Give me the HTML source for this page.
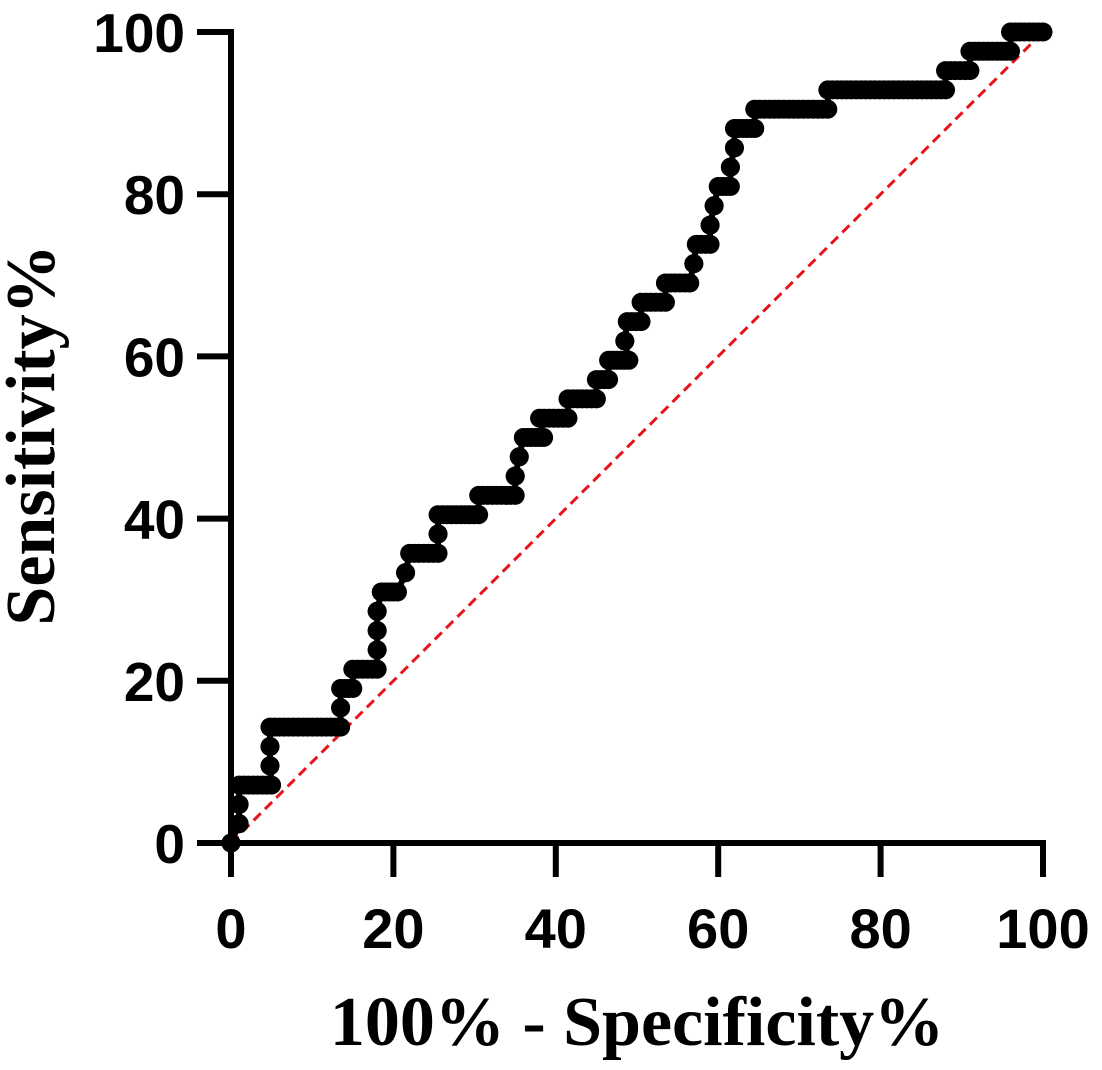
<!DOCTYPE html>
<html><head><meta charset="utf-8"><style>
html,body{margin:0;padding:0;background:#fff;width:1102px;height:1070px;overflow:hidden}
text{font-family:"Liberation Sans",sans-serif;font-weight:bold;fill:#000}
.t{font-family:"Liberation Serif",serif}
</style></head><body>
<svg id="chart" width="1102" height="1070" viewBox="0 0 1102 1070" xmlns="http://www.w3.org/2000/svg">
<g id="axes"></g>
<line id="diag" stroke="#e8141b" stroke-width="3" stroke-dasharray="10,6"/>
<g id="curve"></g>
<text class="t" x="637" y="1045" font-size="70" text-anchor="middle">100% - Specificity%</text>
<text class="t" x="0" y="0" font-size="70" text-anchor="middle" transform="translate(54,435) rotate(-90)">Sensitivity%</text>
</svg>
<script>
const xTicks=[0,20,40,60,80,100];
const yTicks=[0,20,40,60,80,100];
const runSens=[0,2.38,4.76,7.14,9.52,11.9,14.29,16.67,19.05,21.43,23.81,26.19,28.57,30.95,33.33,35.71,38.1,40.48,42.86,45.24,47.62,50,52.38,54.76,57.14,59.52,61.9,64.29,66.67,69.05,71.43,73.81,76.19,78.57,80.95,83.33,85.71,88.1,90.48,92.86,95.24,97.62,100];
const runStart=[0,1,1,1,4.8,4.8,4.8,13.5,13.5,15,18,18,18,18.5,21.5,22,25.5,25.5,30.5,35,35.5,36,38,41.5,45,46.5,48.5,48.8,50.5,53.5,57,57.3,59,59.5,60,61.5,62,62,64.5,73.5,88,91,96];
const runEnd=[0,1,1,5,4.8,4.8,13.5,13.5,15,18,18,18,18,20.5,21.5,25.5,25.5,30.5,35,35,35.5,38.5,41.5,45,46.5,49,48.5,50.5,53.5,56.5,57,59,59,59.5,61.5,61.5,62,64.5,73.5,88,91,96,100];
const X0=231,X1=1043,Y0=843,Y1=32;
const sx=v=>X0+(X1-X0)*v/100, sy=v=>Y0-(Y0-Y1)*v/100;
const NS="http://www.w3.org/2000/svg";
function mk(tag,attrs,parent){const e=document.createElementNS(NS,tag);for(const k in attrs)e.setAttribute(k,attrs[k]);parent.appendChild(e);return e;}
const ax=document.getElementById('axes');
let l=mk('line',{x1:X0,y1:Y0,x2:X0,y2:Y1-3,stroke:'#000','stroke-width':6},ax);


l=mk('line',{x1:X0-3,y1:Y0,x2:X1+3,y2:Y0,stroke:'#000','stroke-width':6},ax);


yTicks.forEach(v=>{
 const t=mk('line',{x1:X0-34,y1:sy(v),x2:X0,y2:sy(v),stroke:'#000','stroke-width':6},ax);
 
 
 const tx=mk('text',{x:185,y:sy(v)+20,'font-size':55,'text-anchor':'end'},ax);tx.textContent=v;
 
 
});
xTicks.forEach(v=>{
 const t=mk('line',{x1:sx(v),y1:Y0,x2:sx(v),y2:Y0+34,stroke:'#000','stroke-width':6},ax);
 
 
 const tx=mk('text',{x:sx(v),y:948,'font-size':56,'text-anchor':'middle'},ax);tx.textContent=v;
 
 
});
const d=document.getElementById('diag');
d.setAttribute('x1',sx(0));d.setAttribute('y1',sy(0));d.setAttribute('x2',sx(100));d.setAttribute('y2',sy(100));
const cv=document.getElementById('curve');
let pts=[];
runSens.forEach((s,i)=>{pts.push([runStart[i],s]);pts.push([runEnd[i],s]);});
const pl=mk('polyline',{points:pts.map(p=>sx(p[0])+','+sy(p[1])).join(' '),fill:'none',stroke:'#000','stroke-width':6},cv);


runSens.forEach((s,i)=>{
 const a=runStart[i],b=runEnd[i];
 const n=Math.max(1,Math.ceil((b-a)/0.6));
 for(let k=0;k<=n;k++){
  const x=a+(b-a)*k/n;
  const c=mk('circle',{cx:sx(x),cy:sy(s),r:9.5,fill:'#000'},cv);
  
  
 }
});
</script>
</body></html>
